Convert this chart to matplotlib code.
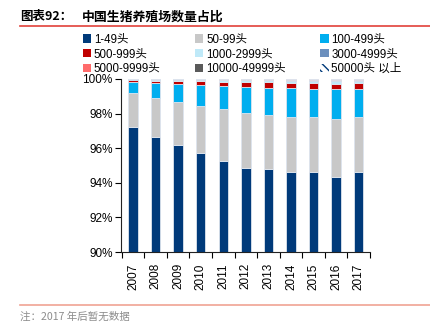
import numpy as np
import matplotlib.pyplot as plt
from matplotlib.patches import Patch
from matplotlib.lines import Line2D

plt.rcParams['font.family'] = ['Liberation Sans', 'Noto Sans CJK SC']
plt.rcParams['hatch.linewidth'] = 1.0

years = ['2007', '2008', '2009', '2010', '2011', '2012',
         '2013', '2014', '2015', '2016', '2017']

# share of farms by herd size, %
s_1_49 = [97.24, 96.67, 96.20, 95.70, 95.28, 94.88, 94.80, 94.64, 94.60, 94.35, 94.62]
s_50_99 = [1.96, 2.23, 2.49, 2.76, 2.97, 3.17, 3.12, 3.18, 3.20, 3.36, 3.20]
s_100_499 = [0.64, 0.87, 1.02, 1.19, 1.35, 1.47, 1.58, 1.64, 1.62, 1.69, 1.60]
s_500_999 = [0.08, 0.14, 0.17, 0.21, 0.23, 0.29, 0.31, 0.33, 0.35, 0.33, 0.33]
s_1000_2999 = [0.04, 0.05, 0.07, 0.08, 0.10, 0.11, 0.11, 0.12, 0.13, 0.16, 0.15]
s_3000_4999 = [0.02, 0.02, 0.02, 0.03, 0.03, 0.04, 0.04, 0.04, 0.05, 0.05, 0.05]
s_5000_9999 = [0.01, 0.01, 0.01, 0.01, 0.02, 0.02, 0.02, 0.02, 0.02, 0.03, 0.02]
s_10000_49999 = [0.005, 0.005, 0.01, 0.01, 0.01, 0.01, 0.01, 0.02, 0.02, 0.02, 0.02]
s_50000 = [0.005, 0.005, 0.01, 0.01, 0.01, 0.01, 0.01, 0.01, 0.01, 0.01, 0.01]

labels = ['1-49头', '50-99头', '100-499头', '500-999头', '1000-2999头',
          '3000-4999头', '5000-9999头', '10000-49999头', '50000头 以上']
series = [s_1_49, s_50_99, s_100_499, s_500_999, s_1000_2999,
          s_3000_4999, s_5000_9999, s_10000_49999, s_50000]
colors = ['#003a7a', '#c8c8c8', '#00aeef', '#c00000', '#bfe9f8',
          '#6b8fbd', '#ff6b6b', '#5a5a5a', 'white']

fig = plt.figure(figsize=(4.30, 3.29), dpi=100)
ax = fig.add_axes([0.2814, 0.234, 0.579, 0.526])

x = np.arange(len(years))
bottom = np.zeros(len(years))
handles = []
for lab, vals, col in zip(labels, series, colors):
    vals = np.array(vals)
    if lab.startswith('50000'):
        ax.bar(x, vals, 0.42, bottom=bottom, color='white', edgecolor='#003a7a',
               hatch='\\\\\\', linewidth=0)
        handles.append(Patch(facecolor='white', edgecolor='#003a7a', hatch='\\\\\\\\',
                             linewidth=0, label=lab))
    else:
        ax.bar(x, vals, 0.42, bottom=bottom, color=col, edgecolor='#dde4ee',
               linewidth=0.6)
        handles.append(Patch(facecolor=col, edgecolor='none', label=lab))
    bottom += vals

ax.set_ylim(90, 100)
ax.set_xlim(-0.53, 10.5)
ax.set_yticks(np.arange(90, 101, 2))
ax.set_yticklabels(['%d%%' % v for v in range(90, 101, 2)], fontsize=8.5)
ax.set_xticks(x)
ax.set_xticklabels(years, rotation=90, fontsize=8.5)
ax.set_xticks(np.arange(-0.5, 11, 1), minor=True)
ax.tick_params(axis='x', which='major', length=0, pad=8)
ax.tick_params(axis='x', which='minor', length=4, width=0.8, direction='out')
ax.tick_params(axis='y', length=4, width=0.8, direction='out', pad=2)
for side in ['top', 'right']:
    ax.spines[side].set_visible(False)
for side in ['left', 'bottom']:
    ax.spines[side].set_linewidth(0.8)
    ax.spines[side].set_color('#222222')

# legend laid out row by row
order = [0, 3, 6, 1, 4, 7, 2, 5, 8]
fig.legend([handles[i] for i in order], [labels[i] for i in order],
           ncol=3, loc='upper left', bbox_to_anchor=(0.193, 0.898),
           frameon=False, fontsize=8.3, handlelength=0.7, handleheight=0.7,
           handletextpad=0.25, columnspacing=3.0, labelspacing=0.22,
           borderpad=0, borderaxespad=0)

# title and footnote
fig.text(0.047, 0.950, '图表92：', fontsize=9, fontweight='bold',
         family=['Noto Sans CJK SC'], va='center')
fig.text(0.19, 0.950, '中国生猪养殖场数量占比', fontsize=9.3, fontweight='bold',
         family=['Noto Sans CJK SC'], va='center')
fig.add_artist(Line2D([0.047, 1.0], [0.921, 0.921], color='#e2413a', lw=1.2))
fig.add_artist(Line2D([0.047, 1.0], [0.073, 0.073], color='#f0a394', lw=1.2))
fig.text(0.047, 0.038, '注：2017 年后暂无数据', fontsize=7.6, color='#8c8c8c',
         family=['Noto Sans CJK SC'], va='center')

fig.savefig('out.png', dpi=100)
